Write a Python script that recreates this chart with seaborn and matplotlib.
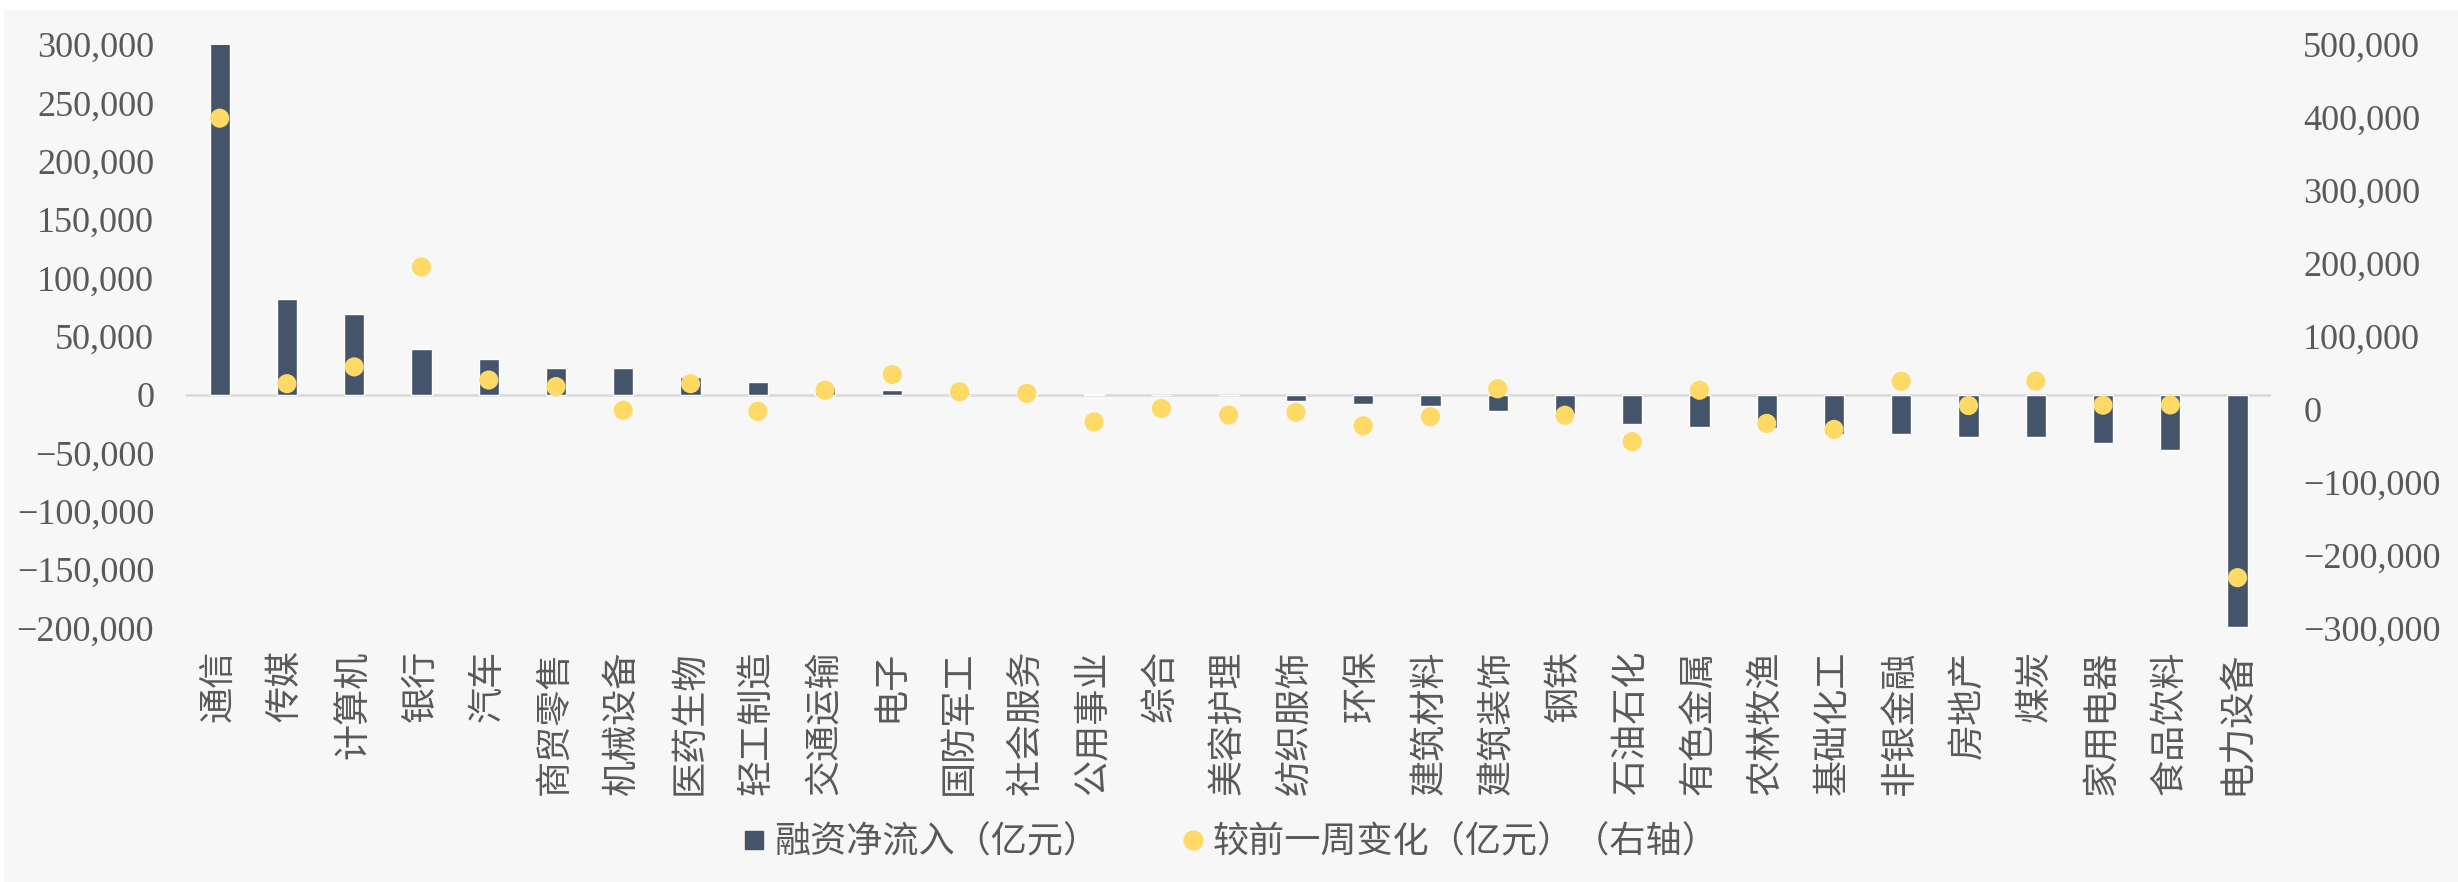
import numpy as np
import matplotlib
matplotlib.use("Agg")
import matplotlib.pyplot as plt
from matplotlib.lines import Line2D
from matplotlib.patches import Rectangle
from matplotlib.ticker import StrMethodFormatter
import seaborn as sns

# industries, sorted by net financing inflow
cats = ["通信", "传媒", "计算机", "银行", "汽车", "商贸零售", "机械设备", "医药生物",
        "轻工制造", "交通运输", "电子", "国防军工", "社会服务", "公用事业", "综合",
        "美容护理", "纺织服饰", "环保", "建筑材料", "建筑装饰", "钢铁", "石油石化",
        "有色金属", "农林牧渔", "基础化工", "非银金融", "房地产", "煤炭", "家用电器",
        "食品饮料", "电力设备"]

# 融资净流入 (left axis)
inflow = [301000, 82000, 69000, 38700, 30700, 23000, 22500, 14800, 10800, 6500,
          3700, 1800, 900, 600, -200, -300, -5700, -7700, -9900, -13700, -16500,
          -24800, -27400, -28500, -33800, -33800, -36100, -36400, -41500, -47500,
          -199500]

# 较前一周变化 (right axis)
change = [399000, 35000, 58000, 195000, 40000, 31000, -1500, 35000, -3000, 26000,
          47500, 23800, 21700, -17400, 1000, -8000, -4400, -22700, -10300, 28000,
          -8300, -44500, 26000, -19500, -27700, 38200, 5000, 38600, 5500, 5900,
          -231000]

left_ticks = list(range(-200000, 300001, 50000))
right_ticks = list(range(-300000, 500001, 100000))

bar_color = "#44546a"
dot_color = "#ffd966"
text_color = "#595959"
bg = "#f7f7f7"

sns.set_theme(style="white")
plt.rcParams["font.family"] = ["Liberation Serif", "Noto Sans CJK SC", "DejaVu Sans"]

fig, ax = plt.subplots(figsize=(24.58, 8.82), dpi=100)
fig.patch.set_facecolor("white")
fig.add_artist(Rectangle((4 / 2458, 0), 1, 1 - 10 / 882, transform=fig.transFigure,
                         facecolor=bg, edgecolor="none", zorder=-10))
fig.subplots_adjust(left=0.0757, right=0.924, bottom=0.288, top=0.9495)

sns.barplot(x=cats, y=inflow, color=bar_color, saturation=1, width=0.3, ax=ax, zorder=2)
ax.axhline(0, color="#d9d9d9", lw=1.8, zorder=1)
ax.set_ylim(-200000, 300000)
ax.set_yticks(left_ticks)
ax.yaxis.set_major_formatter(StrMethodFormatter("{x:,.0f}"))

ax2 = ax.twinx()
sns.scatterplot(x=np.arange(len(cats)), y=change, color=dot_color, s=190,
                edgecolor="none", linewidth=0, ax=ax2, zorder=3)
ax2.set_ylim(-300000, 500000)
ax2.set_yticks(right_ticks)
ax2.yaxis.set_major_formatter(StrMethodFormatter("{x:,.0f}"))
ax.set_xlim(-0.5, len(cats) - 0.5)
ax.set_xticks(range(len(cats)))
ax.set_xticklabels(cats)

for a in (ax, ax2):
    a.set_facecolor("none")
    a.set_xlabel("")
    a.set_ylabel("")
    for s in a.spines.values():
        s.set_visible(False)
    a.tick_params(axis="y", length=0, pad=23, labelsize=26, labelcolor=text_color)
    a.grid(False)
ax.tick_params(axis="x", length=0, pad=16, labelcolor=text_color)
plt.setp(ax.get_xticklabels(), fontsize=26, rotation=90, color=text_color)

handles = [
    Line2D([], [], marker="s", linestyle="none", markersize=13.5, color=bar_color),
    Line2D([], [], marker="o", linestyle="none", markersize=13.5, color=dot_color),
]
fig.legend(handles, ["融资净流入（亿元）", "较前一周变化（亿元）（右轴）"],
           loc="center", bbox_to_anchor=(0.5, 1 - 843 / 882), ncol=2, frameon=False,
           fontsize=26, labelcolor=text_color, handletextpad=0.15, columnspacing=2.2,
           handlelength=0.8)

fig.savefig("out.png", dpi=100, facecolor=fig.get_facecolor())
